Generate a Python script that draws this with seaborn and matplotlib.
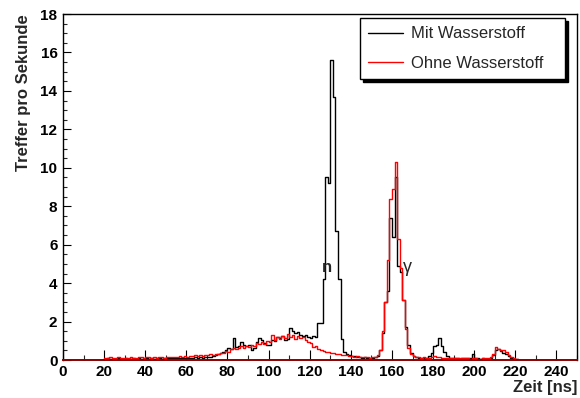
import numpy as np
import pandas as pd
import matplotlib
matplotlib.use("Agg")
import matplotlib.pyplot as plt
import seaborn as sns
from matplotlib.ticker import MultipleLocator
from matplotlib.lines import Line2D

# ---------------- data (hits per second, bins of 1.25 ns from 0 to 250 ns) ----------------
bin_width = 1.25
series_labels = ["Mit Wasserstoff", "Ohne Wasserstoff"]

mit_wasserstoff = (
    [0.0] * 16
    + [0.06, 0.08, 0.05, 0.07, 0.06, 0.08, 0.07, 0.05, 0.08, 0.06, 0.07, 0.09, 0.06, 0.08, 0.07, 0.06]
    + [0.08, 0.07, 0.09, 0.06, 0.08, 0.10, 0.07, 0.09, 0.08, 0.10, 0.09, 0.08, 0.11, 0.09, 0.10, 0.12]
    + [0.10, 0.12, 0.09, 0.14, 0.11, 0.15, 0.12, 0.14, 0.18, 0.15, 0.20, 0.25, 0.30]
    + [0.38, 0.42, 0.50, 0.60, 0.58, 1.13, 0.70, 0.72, 0.95, 0.80, 0.75, 0.78, 0.52, 0.60, 0.95, 1.13, 1.05, 0.90, 0.78, 0.80]
    + [1.04, 1.00, 1.20, 1.15, 1.25, 1.05, 1.10, 1.65, 1.50, 1.40, 1.45, 1.30, 1.25, 1.30, 1.20, 1.15, 1.25, 1.20, 1.90, 1.90]
    + [4.2, 9.5, 9.2, 15.6, 13.7, 6.7, 4.2, 1.1, 0.4, 0.30, 0.25, 0.20, 0.22, 0.15, 0.18, 0.12, 0.15, 0.10, 0.12, 0.10, 0.15, 0.20]
    + [0.5, 1.4, 3.0, 3.6, 7.4, 6.4, 9.5, 4.9, 4.6, 3.1, 1.7, 0.8, 0.35, 0.20, 0.15, 0.12, 0.10, 0.12, 0.10, 0.20]
    + [0.35, 0.75, 0.80, 1.15, 0.75, 0.40, 0.20]
    + [0.12, 0.10, 0.08, 0.10, 0.06, 0.08, 0.10, 0.12, 0.08]
    + [0.30]
    + [0.10, 0.08, 0.06, 0.08, 0.05, 0.06, 0.10]
    + [0.25, 0.50, 0.55, 0.45, 0.35, 0.30, 0.20, 0.10, 0.06, 0.04]
    + [0.0] * 23
)

ohne_wasserstoff = (
    [0.0] * 16
    + [0.10, 0.12, 0.14, 0.10, 0.11, 0.15, 0.12, 0.13, 0.10, 0.12, 0.15, 0.13, 0.11, 0.14, 0.16, 0.13]
    + [0.14, 0.16, 0.12, 0.15, 0.13, 0.17, 0.14, 0.12, 0.16, 0.18, 0.15, 0.17, 0.15, 0.19, 0.17, 0.20]
    + [0.18, 0.22, 0.19, 0.24, 0.21, 0.26, 0.23, 0.27, 0.25, 0.30, 0.28, 0.33, 0.30]
    + [0.38, 0.35, 0.45, 0.42, 0.55, 0.60, 0.58, 0.65, 0.72, 0.62, 0.75, 0.68, 0.80, 0.75, 0.90, 0.82, 0.95, 0.85, 1.00, 0.92]
    + [1.30, 1.05, 1.20, 1.10, 1.25, 1.15, 1.35, 1.20, 1.30, 1.10, 1.25, 1.15, 1.20, 1.05, 0.95, 0.90, 0.70, 0.75, 0.55, 0.50]
    + [0.45, 0.40, 0.42, 0.35, 0.38, 0.30, 0.32, 0.28, 0.25, 0.24, 0.20, 0.22, 0.18, 0.20, 0.15, 0.17, 0.14, 0.16, 0.13, 0.15, 0.18, 0.25]
    + [0.5, 1.5, 3.0, 5.2, 8.4, 8.9, 10.3, 6.3, 4.8, 3.1, 1.6, 0.6, 0.3, 0.20, 0.15, 0.18, 0.12, 0.15, 0.10, 0.12]
    + [0.15, 0.20, 0.18, 0.15, 0.12, 0.10, 0.13]
    + [0.10, 0.08, 0.10, 0.12, 0.08, 0.10, 0.08, 0.10, 0.06]
    + [0.08]
    + [0.10, 0.07, 0.06, 0.08, 0.10, 0.12, 0.15]
    + [0.30, 0.70, 0.55, 0.50, 0.50, 0.40, 0.25, 0.15, 0.10, 0.05]
    + [0.0] * 23
)

x_ticks = [0, 20, 40, 60, 80, 100, 120, 140, 160, 180, 200, 220, 240]
y_ticks = [0, 2, 4, 6, 8, 10, 12, 14, 16, 18]
peak_labels = ["n", "γ"]
peak_label_pos = [(128.6, 4.8), (167.3, 4.8)]

# ---------------- plotting ----------------
sns.set_style("white")
plt.rcParams["font.family"] = ["Liberation Sans", "DejaVu Sans"]

n_bins = len(mit_wasserstoff)
t_max = n_bins * bin_width
centers = (np.arange(n_bins) + 0.5) * bin_width
df_mit = pd.DataFrame({"t": centers, "w": mit_wasserstoff})
df_ohne = pd.DataFrame({"t": centers, "w": ohne_wasserstoff})

fig = plt.figure(figsize=(5.8, 3.98), dpi=100)
ax = fig.add_axes([63 / 580, 38 / 398, 514 / 580, 346 / 398])

sns.histplot(data=df_mit, x="t", weights="w", binwidth=bin_width, binrange=(0, t_max),
             element="step", fill=False, color="black", linewidth=1.0, ax=ax)
sns.histplot(data=df_ohne, x="t", weights="w", binwidth=bin_width, binrange=(0, t_max),
             element="step", fill=False, color="red", linewidth=1.0, ax=ax)

ax.set_xlim(0, 250)
ax.set_ylim(0, 18)
ax.set_xticks(x_ticks)
ax.set_yticks(y_ticks)
ax.xaxis.set_minor_locator(MultipleLocator(10))
ax.yaxis.set_minor_locator(MultipleLocator(0.5))
ax.tick_params(axis="x", which="major", direction="in", length=7, width=0.8, pad=3.5,
               labelsize=11, top=False, bottom=True, colors="black")
ax.tick_params(axis="x", which="minor", direction="in", length=3.5, width=0.8, top=False, bottom=True)
ax.tick_params(axis="y", which="major", direction="in", length=6, width=0.8, pad=4,
               labelsize=11, right=False, left=True, colors="black")
ax.tick_params(axis="y", which="minor", direction="in", length=3, width=0.8, right=False, left=True)
for lab in ax.get_xticklabels() + ax.get_yticklabels():
    lab.set_fontweight("bold")

for sp in ax.spines.values():
    sp.set_color("black")
    sp.set_linewidth(1.0)
# empty (zero) bins of the red histogram lie on the x axis and tint it dark red
ax.spines["bottom"].set_color("#8b0000")
ax.spines["bottom"].set_linewidth(1.4)

ax.set_xlabel("Zeit [ns]", loc="right", fontsize=12, fontweight="bold", labelpad=1)
ax.set_ylabel("Treffer pro Sekunde", loc="top", fontsize=12, fontweight="bold", labelpad=7)

ax.text(*peak_label_pos[0], peak_labels[0], ha="center", va="center", fontsize=12, fontweight="bold")
ax.text(*peak_label_pos[1], peak_labels[1], ha="center", va="center", fontsize=13)

handles = [Line2D([], [], color="black", lw=1.0), Line2D([], [], color="red", lw=1.0)]
leg = ax.legend(handles, series_labels, loc="upper left",
                bbox_to_anchor=(0.578, 0.988 - 0.2, 0.399, 0.2), mode="expand",
                borderaxespad=0, fontsize=12, frameon=True, fancybox=False,
                shadow={"color": "black", "alpha": 1.0}, framealpha=1.0,
                edgecolor="black", handlelength=2.1, handletextpad=0.45,
                labelspacing=0.85, borderpad=0.5)
leg.get_frame().set_linewidth(1.0)

fig.savefig("out.png", dpi=100)
